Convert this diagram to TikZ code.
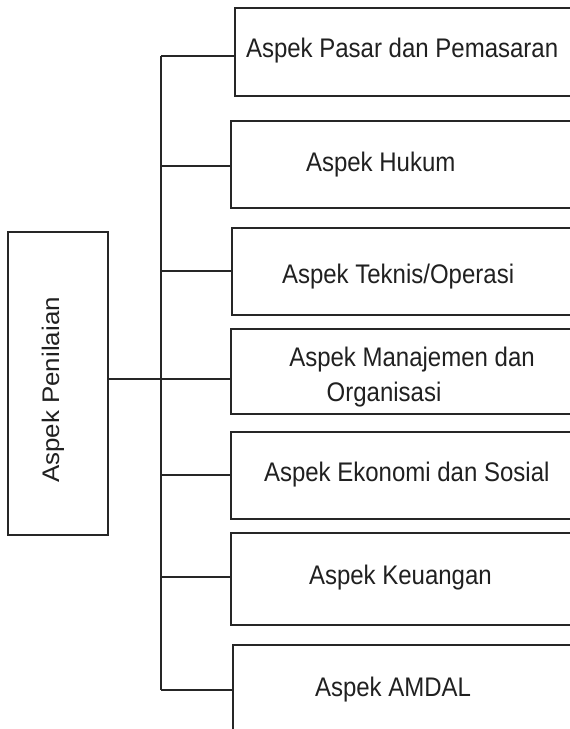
\documentclass[tikz,border=0pt]{standalone}
\usepackage{fontspec}
\setmainfont{Liberation Sans}
\definecolor{linec}{HTML}{262626}
\definecolor{textc}{HTML}{202020}
\newcommand{\tx}[1]{\scalebox{1}[1.12]{#1}}
\begin{document}
\begin{tikzpicture}[x=1pt,y=-1pt,
  box/.style={draw=linec, line width=1.7pt, rectangle, inner sep=0pt, outer sep=0pt, anchor=north west},
  lbl/.style={text=textc, inner sep=0pt, outer sep=0pt, anchor=base west, font=\fontsize{24}{35}\selectfont},
  conn/.style={draw=linec, line width=1.7pt}]
\useasboundingbox (0,0) rectangle (570,729);
\clip (0,0) rectangle (570,729);
% root box
\node[box, minimum width=100pt, minimum height=303.3pt] (root) at (7.7,231.7) {};
\node[text=textc, inner sep=0pt, rotate=90, font=\fontsize{24}{28}\selectfont] (rt) at (53,390) {\scalebox{1.08}[1]{Aspek Penilaian}};
% right boxes
\node[box, minimum width=400pt, minimum height=88pt]   (b1) at (234.7,8.3) {};
\node[box, minimum width=400pt, minimum height=87.3pt] (b2) at (230.7,120.7) {};
\node[box, minimum width=400pt, minimum height=87pt]   (b3) at (232,227.7) {};
\node[box, minimum width=400pt, minimum height=84.4pt] (b4) at (230.7,329.3) {};
\node[box, minimum width=400pt, minimum height=86.7pt] (b5) at (231,432.3) {};
\node[box, minimum width=400pt, minimum height=92pt]   (b6) at (230.7,533.3) {};
\node[box, minimum width=400pt, minimum height=120pt]  (b7) at (232.7,645.3) {};
% texts
\node[lbl] (t1) at (246,57.3) {\tx{Aspek Pasar dan Pemasaran}};
\node[lbl] (t2) at (306,171.7) {\tx{Aspek Hukum}};
\node[lbl] (t3) at (282,283) {\tx{Aspek Teknis/Operasi}};
\node[lbl, align=left] (t4) at (289.3,401) {\tx{Aspek Manajemen dan}\\\hspace*{37.4pt}\tx{Organisasi}};
\node[lbl] (t5) at (264,481.7) {\tx{Aspek Ekonomi dan Sosial}};
\node[lbl] (t6) at (309,584) {\tx{Aspek Keuangan}};
\node[lbl] (t7) at (315,696.5) {\tx{Aspek AMDAL}};
% junctions on trunk
\coordinate (j1) at (161,56);
\coordinate (j2) at (161,165.7);
\coordinate (j3) at (161,270.7);
\coordinate (jm) at (161,379);
\coordinate (j5) at (161,475.3);
\coordinate (j6) at (161,577.3);
\coordinate (j7) at (161,690);
% connectors
\draw[conn] (j1) -- (j7);
\draw[conn] (j1) -- (j1 -| b1.west);
\draw[conn] (j2) -- (j2 -| b2.west);
\draw[conn] (j3) -- (j3 -| b3.west);
\draw[conn] (jm -| root.east) -- (jm -| b4.west);
\draw[conn] (j5) -- (j5 -| b5.west);
\draw[conn] (j6) -- (j6 -| b6.west);
\draw[conn] (j7) -- (j7 -| b7.west);
\end{tikzpicture}
\end{document}
